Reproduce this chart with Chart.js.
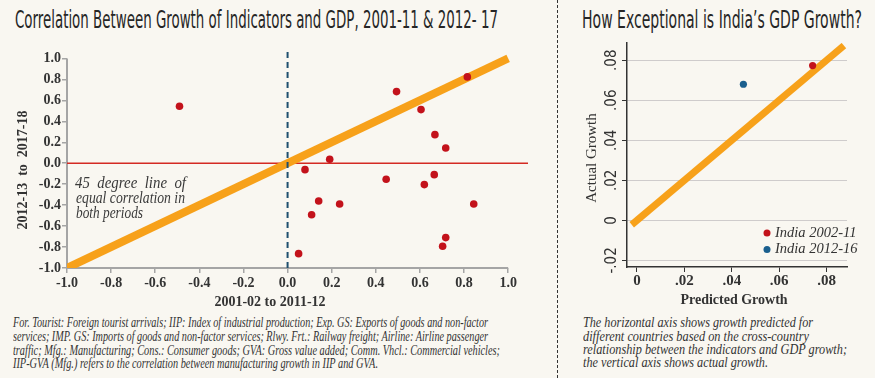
<!DOCTYPE html>
<html><head><meta charset="utf-8">
<script src="https://cdn.jsdelivr.net/npm/chart.js@4"></script>
<style>
html,body{margin:0;padding:0;background:#f9f7f1;}
#wrap{position:relative;width:875px;height:378px;overflow:hidden;background:#f9f7f1;}
.t{position:absolute;white-space:pre;transform-origin:0 0;line-height:1;}
.title{font-family:"Liberation Sans Narrow","DejaVu Sans Condensed","Roboto",sans-serif;font-size:25px;color:#262626;}
.note{font-family:"Liberation Serif",serif;font-style:italic;font-size:14.5px;color:#333;}
.ann{font-family:"Liberation Serif",serif;font-style:italic;font-size:16.5px;color:#3a3a3a;}
canvas{position:absolute;top:0;}
#sep{position:absolute;left:557px;top:0;height:378px;border-left:1px dashed #333;}
</style></head>
<body><div id="wrap">
<div class="t title" data-w="483" style="left:15px;top:7px;">Correlation Between Growth of Indicators and GDP, 2001-11 &amp; 2012- 17</div>
<div class="t title" data-w="280" style="left:582px;top:7px;">How Exceptional is India’s GDP Growth?</div>
<div id="sep"></div>
<div style="position:absolute;left:0;top:0;width:557px;height:310px;"><canvas id="c1" width="557" height="310" style="left:0;"></canvas></div>
<div style="position:absolute;left:558px;top:0;width:317px;height:310px;"><canvas id="c2" width="317" height="310" style="left:0;"></canvas></div>
<div class="t ann" data-w="111" style="left:75px;top:175px;">45  degree  line  of</div>
<div class="t ann" data-w="109" style="left:76px;top:190px;">equal correlation in</div>
<div class="t ann" data-w="67" style="left:76px;top:205px;">both periods</div>
<div class="t note" data-w="475" style="left:13px;top:315px;">For. Tourist: Foreign tourist arrivals; IIP: Index of industrial production; Exp. GS: Exports of goods and non-factor</div>
<div class="t note" data-w="475" style="left:13px;top:328.5px;">services; IMP. GS: Imports of goods and non-factor services; Rlwy. Frt.: Railway freight; Airline: Airline passenger</div>
<div class="t note" data-w="487" style="left:13px;top:342.5px;">traffic; Mfg.: Manufacturing; Cons.: Consumer goods; GVA: Gross value added; Comm. Vhcl.: Commercial vehicles;</div>
<div class="t note" data-w="365" style="left:13px;top:356px;">IIP-GVA (Mfg.) refers to the correlation between manufacturing growth in IIP and GVA.</div>
<div class="t note" data-w="230" style="left:583px;top:314.5px;">The horizontal axis shows growth predicted for</div>
<div class="t note" data-w="226" style="left:583px;top:328.5px;">different countries based on the cross-country</div>
<div class="t note" data-w="264" style="left:583px;top:342px;">relationship between the indicators and GDP growth;</div>
<div class="t note" data-w="185" style="left:583px;top:354.5px;">the vertical axis shows actual growth.</div>
</div>
<script>
// ---------- data: left panel ----------
const indicatorX = [0.815,0.494,0.605,0.668,0.717,0.191,0.079,0.447,0.665,0.620,0.141,0.236,0.844,0.109,0.717,0.703,0.050,-0.490];
const indicatorY = [0.824,0.684,0.512,0.273,0.146,0.038,-0.061,-0.153,-0.109,-0.204,-0.360,-0.389,-0.389,-0.491,-0.710,-0.793,-0.863,0.544];
const diagX = [-1, 1];
const diagY = [-1, 1];
const zeroLineX = [-1, 1.09];
const zeroLineY = [0, 0];
const vertLineX = [0, 0];
const vertLineY = [-1, 1.1];
const leftTicks = [-1,-0.8,-0.6,-0.4,-0.2,0,0.2,0.4,0.6,0.8,1];
const leftXTitle = "2001-02 to 2011-12";
const leftYTitle = "2012-13  to  2017-18";

// ---------- data: right panel ----------
const seriesLabels = ["India 2002-11", "India 2012-16"];
const predictedGrowth = [0.0741, 0.0449];
const actualGrowth = [0.0773, 0.0680];
const fitX = [-0.0022, 0.0873];
const fitY = [-0.0022, 0.0873];
const rightXTicks = [0, 0.02, 0.04, 0.06, 0.08];
const rightYTicks = [-0.02, 0, 0.02, 0.04, 0.06, 0.08];
const rightXTitle = "Predicted Growth";
const rightYTitle = "Actual Growth";

const ORANGE = '#f7a11a', RED = '#c3121b', BLUE = '#1a5f8e';
const zip = (a,b) => a.map((v,i)=>({x:v,y:b[i]}));
const fmtR = v => { if (Math.abs(v) < 1e-9) return '0'; const s = v.toFixed(2); return s.replace(/^(-?)0\./,'$1.'); };

// fit texts
document.querySelectorAll('.t[data-w]').forEach(el=>{
  const w = el.getBoundingClientRect().width;
  el.style.transform = 'scaleX(' + (parseFloat(el.dataset.w)/w) + ')';
});

const serif = '"Liberation Serif", "DejaVu Serif", serif';

const leftDeco = {
  id:'leftDeco',
  beforeDatasetsDraw(chart){
    const {ctx, scales:{x,y}} = chart;
    ctx.save();
    ctx.strokeStyle = '#a5a5a5'; ctx.lineWidth = 2;
    ctx.beginPath();
    ctx.moveTo(x.getPixelForValue(-1), y.getPixelForValue(-1));
    ctx.lineTo(x.getPixelForValue(1), y.getPixelForValue(-1));
    ctx.moveTo(x.getPixelForValue(-1), y.getPixelForValue(-1));
    ctx.lineTo(x.getPixelForValue(-1), y.getPixelForValue(1));
    ctx.stroke();
    ctx.restore();
  },
  afterDraw(chart){
    const {ctx} = chart;
    ctx.save();
    ctx.fillStyle = '#333';
    ctx.font = 'bold 14px ' + serif;
    ctx.textAlign = 'center'; ctx.textBaseline = 'middle';
    ctx.fillText(leftXTitle, 270, 302);
    ctx.translate(23, 170); ctx.rotate(-Math.PI/2);
    ctx.fillText(leftYTitle, 0, 0);
    ctx.restore();
  }
};

new Chart(document.getElementById('c1'), {
  type:'scatter',
  data:{datasets:[
    {data: zip(indicatorX, indicatorY), backgroundColor: RED, borderColor: RED, pointRadius: 3.8, pointBorderWidth: 0, order: 0},
    {data: zip(vertLineX, vertLineY), showLine:true, borderColor:'#1f4f6e', borderWidth:2, borderDash:[6,4], pointRadius:0, order:1},
    {data: zip(diagX, diagY), showLine:true, borderColor: ORANGE, borderWidth:8, borderCapStyle:'butt', pointRadius:0, order:2},
    {data: zip(zeroLineX, zeroLineY), showLine:true, borderColor:'#d42a23', borderWidth:1.5, pointRadius:0, order:3}
  ]},
  options:{
    animation:false, responsive:false, events:[],
    layout:{padding:{top:48,right:29,left:0,bottom:0}},
    plugins:{legend:{display:false}, tooltip:{enabled:false}},
    scales:{
      x:{type:'linear', min:-1, max:1.09,
        afterBuildTicks: s => { s.ticks = leftTicks.map(v=>({value:v})); },
        afterFit: s => { s.height = 42; },
        border:{display:false},
        grid:{drawOnChartArea:false, drawTicks:true, tickLength:5, color:'#a5a5a5', tickColor:'#a5a5a5', lineWidth:1.5},
        ticks:{padding:2, maxRotation:0, color:'#333', font:{family:serif, size:14, weight:'bold'}, callback: v => v.toFixed(1)}
      },
      y:{type:'linear', min:-1, max:1.1,
        afterBuildTicks: s => { s.ticks = leftTicks.map(v=>({value:v})); },
        afterFit: s => { s.width = 67; },
        border:{display:false},
        grid:{drawOnChartArea:false, drawTicks:true, tickLength:5, color:'#a5a5a5', tickColor:'#a5a5a5', lineWidth:1.5},
        ticks:{padding:1, color:'#333', font:{family:serif, size:14, weight:'bold'}, callback: v => v.toFixed(1)}
      }
    }
  },
  plugins:[leftDeco]
});

const rightDeco = {
  id:'rightDeco',
  afterDraw(chart){
    const {ctx, scales:{x,y}, chartArea} = chart;
    ctx.save();
    // rotated y tick labels
    ctx.fillStyle = '#333';
    ctx.font = '15px "Liberation Sans Narrow", "DejaVu Sans Condensed", sans-serif';
    ctx.textAlign = 'center'; ctx.textBaseline = 'middle';
    rightYTicks.forEach(v=>{
      ctx.save();
      ctx.translate(x.left - 15, y.getPixelForValue(v));
      ctx.rotate(-Math.PI/2);
      ctx.fillText(fmtR(v), 0, 0);
      ctx.restore();
    });
    // axis titles
    ctx.font = 'bold 14px ' + serif;
    ctx.fillText(rightXTitle, 176, 300);
    ctx.save();
    ctx.translate(34, 158); ctx.rotate(-Math.PI/2);
    ctx.font = '15px ' + serif;
    ctx.fillText(rightYTitle, 0, 0);
    ctx.restore();
    // legend
    ctx.font = 'italic 14.5px ' + serif;
    ctx.textAlign = 'left';
    const cols = [RED, BLUE];
    seriesLabels.forEach((lab,i)=>{
      const cy = chartArea.bottom - 34 + i*16.5;
      const cx = chartArea.right - 38;
      ctx.fillStyle = cols[i];
      ctx.beginPath(); ctx.arc(cx - 42, cy, 3.5, 0, Math.PI*2); ctx.fill();
      ctx.fillStyle = '#333';
      ctx.fillText(lab, cx - 34, cy);
    });
    ctx.restore();
  }
};

new Chart(document.getElementById('c2'), {
  type:'scatter',
  data:{datasets:[
    {label:seriesLabels[0], data:[{x:predictedGrowth[0], y:actualGrowth[0]}], backgroundColor:RED, pointRadius:3.6, pointBorderWidth:0, order:0},
    {label:seriesLabels[1], data:[{x:predictedGrowth[1], y:actualGrowth[1]}], backgroundColor:BLUE, pointRadius:3.6, pointBorderWidth:0, order:0},
    {data: zip(fitX, fitY), showLine:true, borderColor:ORANGE, borderWidth:7, borderCapStyle:'butt', pointRadius:0, order:2}
  ]},
  options:{
    animation:false, responsive:false, events:[],
    layout:{padding:{top:43,right:28,left:0,bottom:0}},
    plugins:{legend:{display:false}, tooltip:{enabled:false}},
    scales:{
      x:{type:'linear', min:-0.0042, max:0.0886,
        afterBuildTicks: s => { s.ticks = rightXTicks.map(v=>({value:v})); },
        afterFit: s => { s.height = 43; },
        border:{display:true, color:'#333', width:1.5},
        grid:{drawOnChartArea:false, drawTicks:true, tickLength:5, tickColor:'#333'},
        ticks:{padding:0, maxRotation:0, color:'#333', font:{family:serif, size:15, weight:'bold'}, callback: v => fmtR(v)}
      },
      y:{type:'linear', min:-0.0233, max:0.0886,
        afterBuildTicks: s => { s.ticks = rightYTicks.map(v=>({value:v})); },
        afterFit: s => { s.width = 69; },
        border:{display:true, color:'#333', width:1.5},
        grid:{drawOnChartArea:true, drawTicks:true, tickLength:5, color:'#cfcccc', tickColor:'#333'},
        ticks:{display:false}
      }
    }
  },
  plugins:[rightDeco]
});
</script>
</body></html>
